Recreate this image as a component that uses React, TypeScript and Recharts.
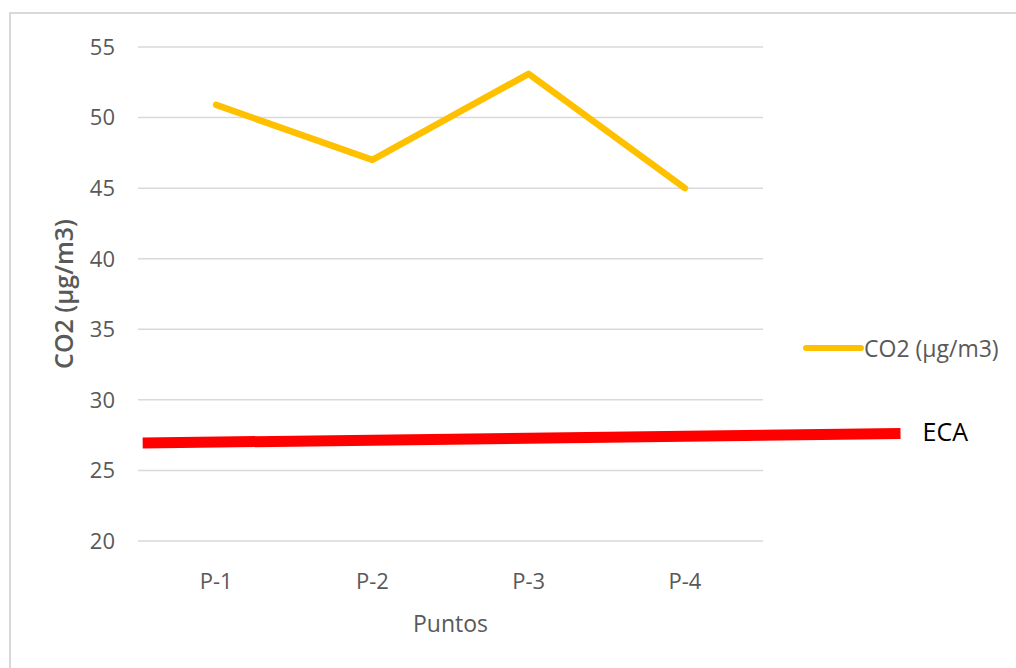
import React from 'react';
import { LineChart, Line, XAxis, YAxis, CartesianGrid, ReferenceLine, Legend } from 'recharts';

const categories = ['P-1', 'P-2', 'P-3', 'P-4'];
const co2Values = [50.9, 47.0, 53.1, 45.0];
const yTicks = [20, 25, 30, 35, 40, 45, 50, 55];
// ECA threshold line, x in category-index units (P-1 = 0 ... P-4 = 3)
const ecaStart = { x: -0.47, y: 26.94 };
const ecaEnd = { x: 4.38, y: 27.62 };

const data = categories.map((c, i) => ({ name: c, idx: i, co2: co2Values[i] }));

const FONT = '"Open Sans", sans-serif';
const GRAY = '#595959';

const LegendContent = () => (
  <div style={{ display: 'flex', alignItems: 'center', width: 'max-content', fontFamily: FONT, fontSize: 23, color: GRAY, whiteSpace: 'nowrap' }}>
    <svg width={61} height={10} style={{ flexShrink: 0, display: 'block' }}>
      <line x1={3} y1={5} x2={58} y2={5} stroke="#FFC000" strokeWidth={6} strokeLinecap="round" />
    </svg>
    <span style={{ flexShrink: 0 }}>CO2 (µg/m3)</span>
  </div>
);

const YLabel = (props: any) => {
  const vb = props.viewBox || { x: 0, y: 0, width: 0, height: 0 };
  const cx = vb.x + 63;
  const cy = vb.y + vb.height / 2;
  return (
    <text x={cx} y={cy} transform={`rotate(-90 ${cx} ${cy})`} textAnchor="middle" dominantBaseline="central"
      fill={GRAY} fontFamily={FONT} fontSize={25} fontWeight={600}>
      CO2 (µg/m3)
    </text>
  );
};

export default function App() {
  return (
    <div style={{ position: 'absolute', left: 0, top: 0, width: 1016, height: 668, overflow: 'hidden', background: '#fff' }}>
      <div style={{ position: 'absolute', left: 9, top: 12, width: 1100, height: 800, border: '2px solid #d9d9d9' }} />
      <div style={{ position: 'absolute', left: 0, top: 0 }}>
        <LineChart width={1016} height={668} data={data} margin={{ top: 47, right: 253, bottom: 0, left: 0 }}>
          <CartesianGrid vertical={false} stroke="#d9d9d9" strokeWidth={1.5} />
          <XAxis dataKey="name" xAxisId="cat" scale="band" axisLine={false} tickLine={false} tickSize={0} tickMargin={32} height={127}
            tick={{ fill: GRAY, fontFamily: FONT, fontSize: 22 }} interval={0}
            label={{ value: 'Puntos', position: 'insideTop', offset: 75, fill: GRAY, fontFamily: FONT, fontSize: 23 }} />
          <XAxis xAxisId="num" dataKey="idx" type="number" domain={[-0.5, 3.5]} allowDataOverflow hide height={0} />
          <YAxis domain={[20, 55]} ticks={yTicks} axisLine={false} tickLine={false} tickSize={0} tickMargin={23} width={138}
            tick={{ fill: GRAY, fontFamily: FONT, fontSize: 22 }} interval={0} label={<YLabel />} />
          <Line xAxisId="cat" type="linear" dataKey="co2" name="CO2 (µg/m3)" stroke="#FFC000" strokeWidth={6.5}
            strokeLinecap="round" strokeLinejoin="round" dot={false} activeDot={false} isAnimationActive={false} />
          <ReferenceLine xAxisId="num" segment={[ecaStart, ecaEnd]} stroke="#FF0000" strokeWidth={11} ifOverflow="visible"
            label={{ value: 'ECA', position: 'right', offset: 22, fill: '#000', fontFamily: FONT, fontSize: 25, dy: -6 }} />
          <Legend content={<LegendContent />} wrapperStyle={{ left: 803, top: 332, width: 0, height: 0, overflow: 'visible' }} />
        </LineChart>
      </div>
    </div>
  );
}
